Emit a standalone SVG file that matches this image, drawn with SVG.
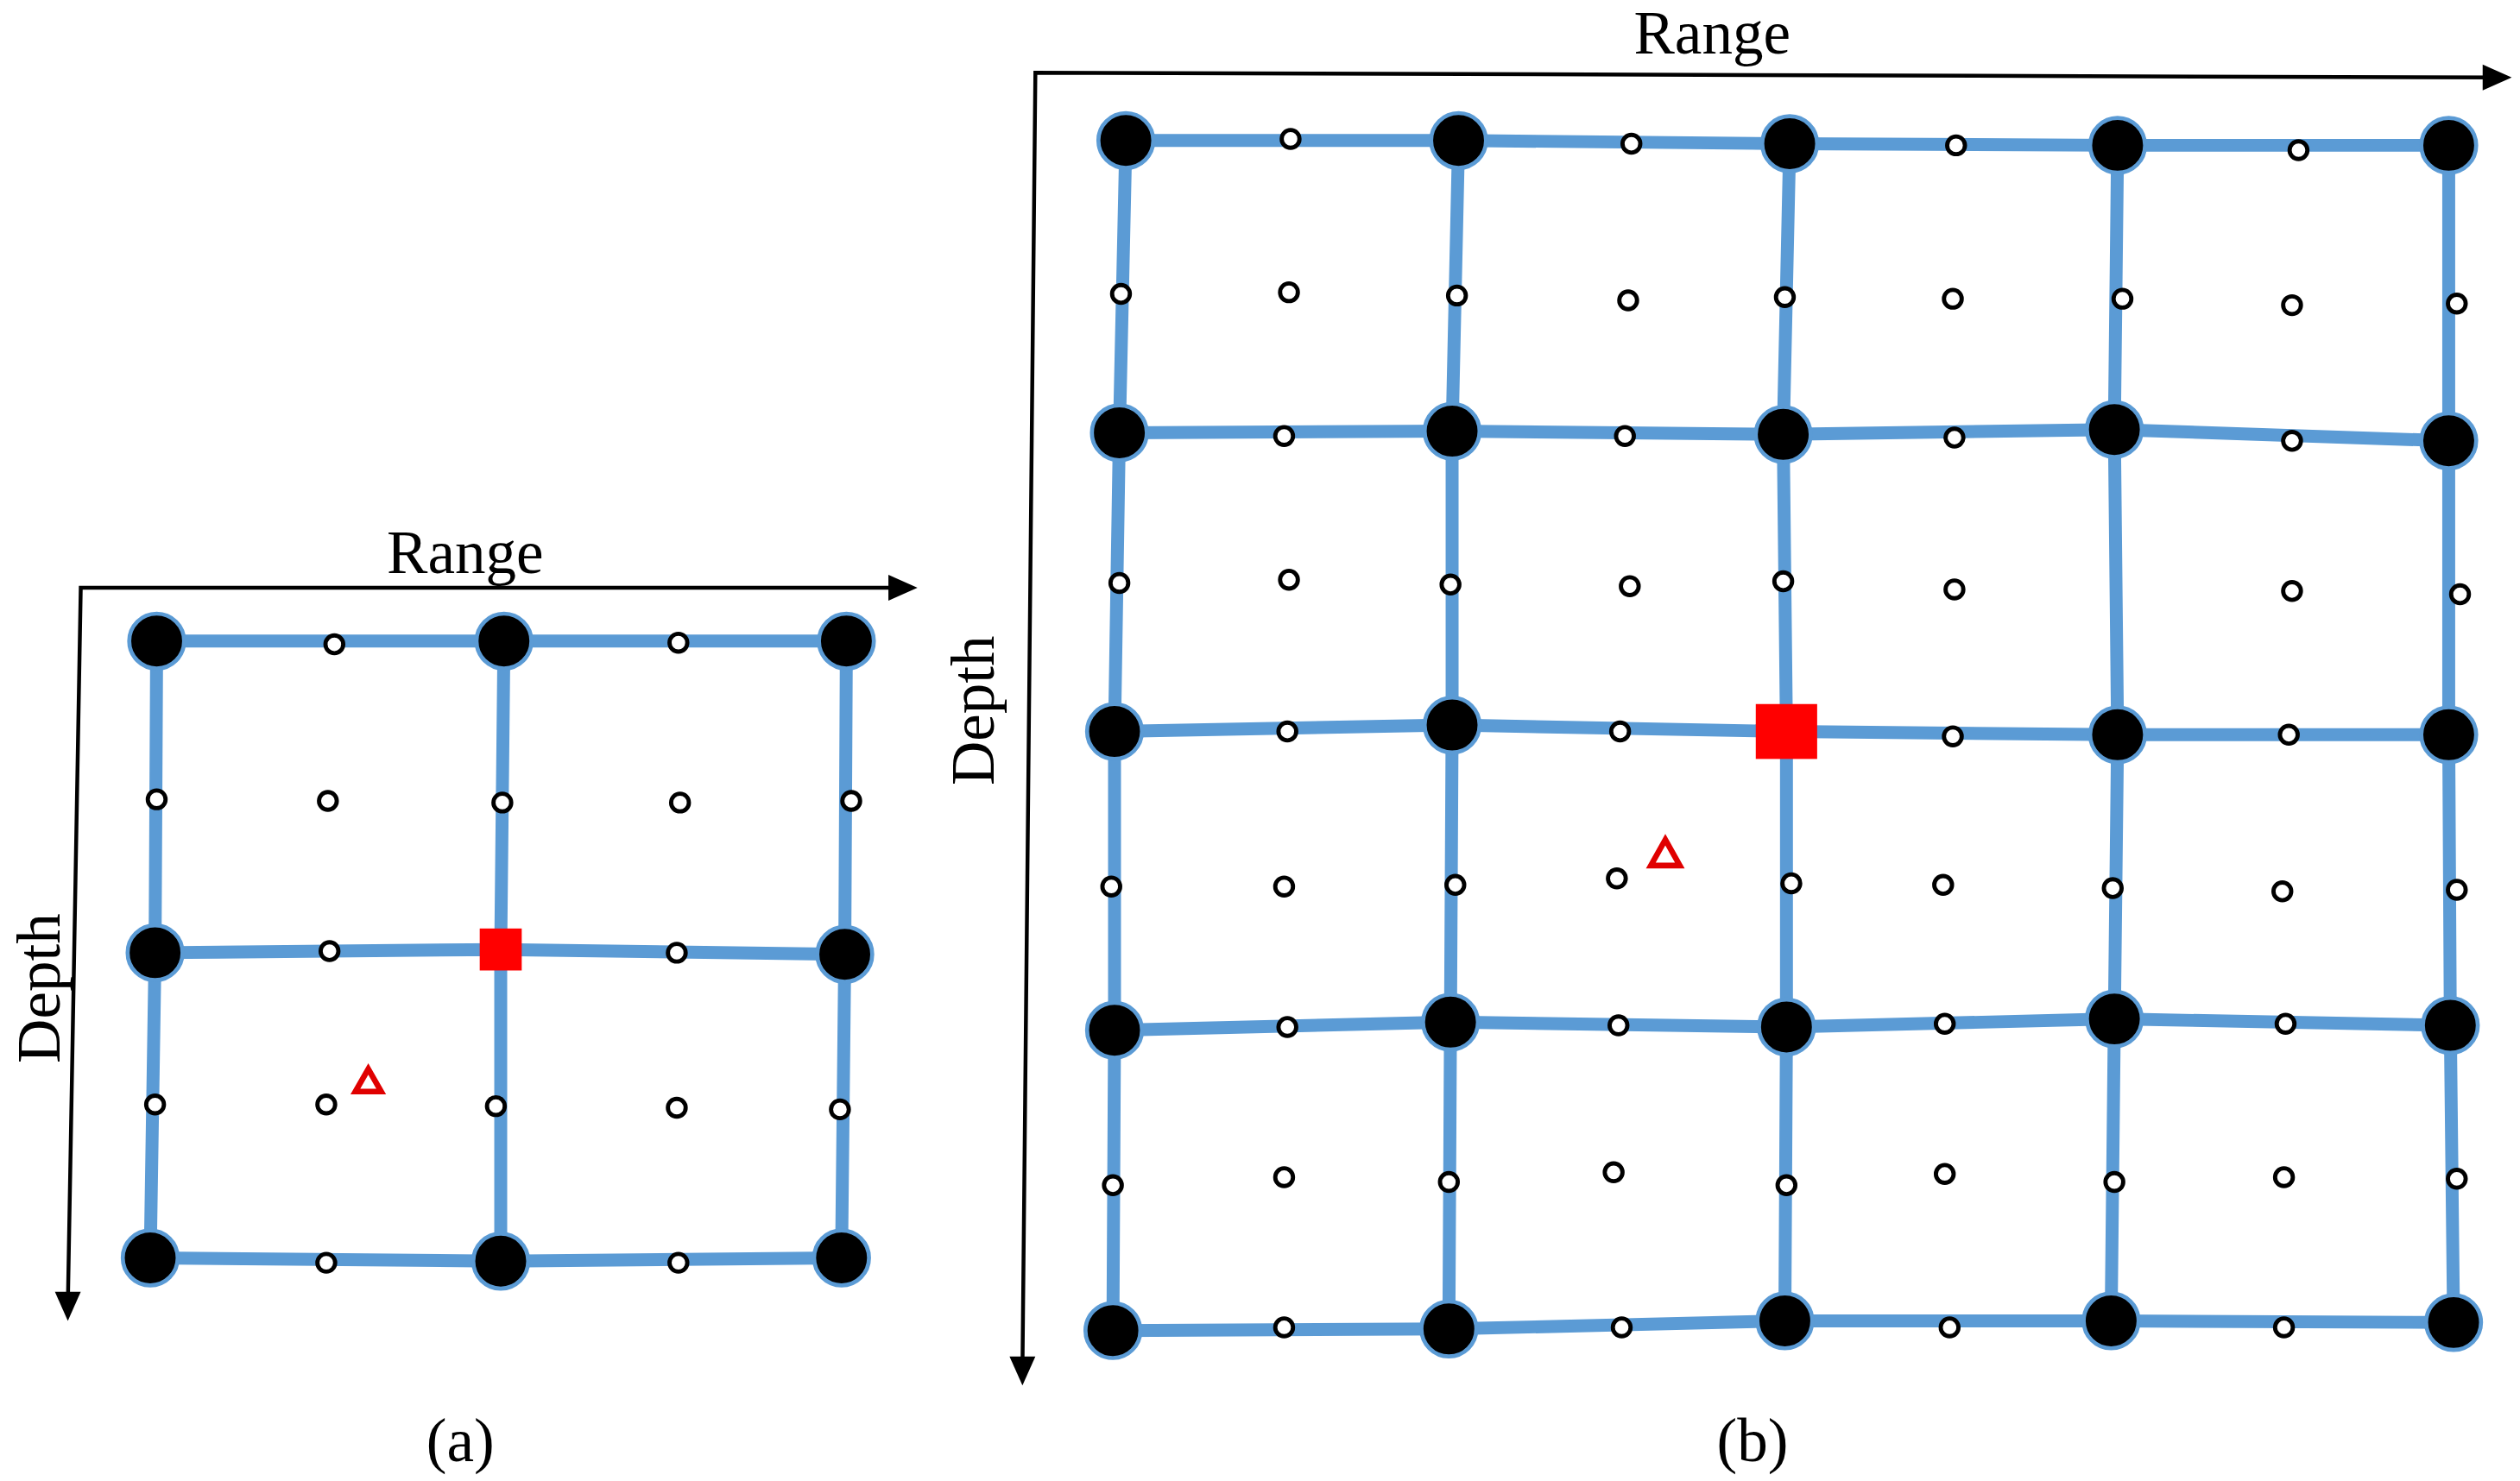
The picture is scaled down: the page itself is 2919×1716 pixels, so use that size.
<svg xmlns="http://www.w3.org/2000/svg" width="2919" height="1716" viewBox="0 0 2919 1716">
<defs>
<style>
.ln{fill:none;stroke:#5b9bd5;stroke-width:8;stroke-linecap:round;stroke-linejoin:round}
.ax{fill:none;stroke:#000;stroke-width:2.4}
.bn{fill:#000;stroke:#5b9bd5;stroke-width:2.5}
.sn{fill:#fff;stroke:#000;stroke-width:2.6}
.lb{font-family:"Liberation Serif","Times New Roman",serif;font-size:38px;fill:#000;text-anchor:middle}
.tri{fill:none;stroke:#e00000;stroke-width:3.5}
</style>
</defs>
<rect width="2919" height="1716" fill="#fff"/>
<g transform="scale(1.871)">
<g id="connectors-a">
<polyline class="ln" points="97,397 312,397 524,397"/>
<polyline class="ln" points="96,590 310,588 523,591"/>
<polyline class="ln" points="93,779 310,781 521,779"/>
<polyline class="ln" points="97,397 96,590 93,779"/>
<polyline class="ln" points="312,397 310,588 310,781"/>
<polyline class="ln" points="524,397 523,591 521,779"/>
</g>
<g id="axes-a">
<polyline class="ax" points="560,364 50,364 42,808"/>
<path d="M550,356 L568,364 L550,372 z"/>
<path d="M34,800 L42,818 L50,800 z"/>
</g>
<g id="nodes-a">
<g class="bn">
<circle cx="97" cy="397" r="17"/><circle cx="312" cy="397" r="17"/><circle cx="524" cy="397" r="17"/>
<circle cx="96" cy="590" r="17"/><circle cx="523" cy="591" r="17"/>
<circle cx="93" cy="779" r="17"/><circle cx="310" cy="781" r="17"/><circle cx="521" cy="779" r="17"/>
</g>
<rect x="297" y="575" width="26" height="26" fill="#ff0000"/>
<g class="sn">
<circle cx="207" cy="399" r="5.5"/><circle cx="420" cy="398" r="5.5"/>
<circle cx="97" cy="495" r="5.5"/><circle cx="203" cy="496" r="5.5"/><circle cx="311" cy="497" r="5.5"/><circle cx="421" cy="497" r="5.5"/><circle cx="527" cy="496" r="5.5"/>
<circle cx="204" cy="589" r="5.5"/><circle cx="419" cy="590" r="5.5"/>
<circle cx="96" cy="684" r="5.5"/><circle cx="202" cy="684" r="5.5"/><circle cx="307" cy="685" r="5.5"/><circle cx="419" cy="686" r="5.5"/><circle cx="520" cy="687" r="5.5"/>
<circle cx="202" cy="782" r="5.5"/><circle cx="420" cy="782" r="5.5"/>
</g>
<polygon class="tri" points="228,662 236,676 220,676"/>
</g>
<g id="labels-a">
<text class="lb" x="288" y="355">Range</text>
<text class="lb" transform="translate(37,612) rotate(-90)">Depth</text>
<text class="lb" x="285" y="905">(a)</text>
</g>
<g id="connectors-b">
<polyline class="ln" points="697,87 903,87 1108,89 1311,90 1516,90"/>
<polyline class="ln" points="693,268 899,267 1104,269 1309,266 1516,273"/>
<polyline class="ln" points="690,453 899,449 1106,453 1311,455 1516,455"/>
<polyline class="ln" points="690,638 898,633 1106,636 1309,631 1517,635"/>
<polyline class="ln" points="689,824 897,823 1105,818 1307,818 1519,819"/>
<polyline class="ln" points="697,87 693,268 690,453 690,638 689,824"/>
<polyline class="ln" points="903,87 899,267 899,449 898,633 897,823"/>
<polyline class="ln" points="1108,89 1104,269 1106,453 1106,636 1105,818"/>
<polyline class="ln" points="1311,90 1309,266 1311,455 1309,631 1307,818"/>
<polyline class="ln" points="1516,90 1516,273 1516,455 1517,635 1519,819"/>
</g>
<g id="axes-b">
<polyline class="ax" points="1547,48 641,45 633,848"/>
<path d="M1537,40 L1555,48 L1537,56 z"/>
<path d="M625,840 L633,858 L641,840 z"/>
</g>
<g id="nodes-b">
<g class="bn">
<circle cx="697" cy="87" r="17"/><circle cx="903" cy="87" r="17"/><circle cx="1108" cy="89" r="17"/><circle cx="1311" cy="90" r="17"/><circle cx="1516" cy="90" r="17"/>
<circle cx="693" cy="268" r="17"/><circle cx="899" cy="267" r="17"/><circle cx="1104" cy="269" r="17"/><circle cx="1309" cy="266" r="17"/><circle cx="1516" cy="273" r="17"/>
<circle cx="690" cy="453" r="17"/><circle cx="899" cy="449" r="17"/><circle cx="1311" cy="455" r="17"/><circle cx="1516" cy="455" r="17"/>
<circle cx="690" cy="638" r="17"/><circle cx="898" cy="633" r="17"/><circle cx="1106" cy="636" r="17"/><circle cx="1309" cy="631" r="17"/><circle cx="1517" cy="635" r="17"/>
<circle cx="689" cy="824" r="17"/><circle cx="897" cy="823" r="17"/><circle cx="1105" cy="818" r="17"/><circle cx="1307" cy="818" r="17"/><circle cx="1519" cy="819" r="17"/>
</g>
<rect x="1087" y="436" width="38" height="34" fill="#ff0000"/>
<g class="sn">
<circle cx="799" cy="86" r="5.5"/><circle cx="1010" cy="89" r="5.5"/><circle cx="1211" cy="90" r="5.5"/><circle cx="1423" cy="93" r="5.5"/>
<circle cx="694" cy="182" r="5.5"/><circle cx="798" cy="181" r="5.5"/><circle cx="902" cy="183" r="5.5"/><circle cx="1008" cy="186" r="5.5"/><circle cx="1105" cy="184" r="5.5"/><circle cx="1209" cy="185" r="5.5"/><circle cx="1314" cy="185" r="5.5"/><circle cx="1419" cy="189" r="5.5"/><circle cx="1521" cy="188" r="5.5"/>
<circle cx="795" cy="270" r="5.5"/><circle cx="1006" cy="270" r="5.5"/><circle cx="1210" cy="271" r="5.5"/><circle cx="1419" cy="273" r="5.5"/>
<circle cx="693" cy="361" r="5.5"/><circle cx="798" cy="359" r="5.5"/><circle cx="898" cy="362" r="5.5"/><circle cx="1009" cy="363" r="5.5"/><circle cx="1104" cy="360" r="5.5"/><circle cx="1210" cy="365" r="5.5"/><circle cx="1419" cy="366" r="5.5"/><circle cx="1523" cy="368" r="5.5"/>
<circle cx="797" cy="453" r="5.5"/><circle cx="1003" cy="453" r="5.5"/><circle cx="1209" cy="456" r="5.5"/><circle cx="1417" cy="455" r="5.5"/>
<circle cx="688" cy="549" r="5.5"/><circle cx="795" cy="549" r="5.5"/><circle cx="901" cy="548" r="5.5"/><circle cx="1001" cy="544" r="5.5"/><circle cx="1109" cy="547" r="5.5"/><circle cx="1203" cy="548" r="5.5"/><circle cx="1308" cy="550" r="5.5"/><circle cx="1413" cy="552" r="5.5"/><circle cx="1521" cy="551" r="5.5"/>
<circle cx="797" cy="636" r="5.5"/><circle cx="1002" cy="635" r="5.5"/><circle cx="1204" cy="634" r="5.5"/><circle cx="1415" cy="634" r="5.5"/>
<circle cx="689" cy="734" r="5.5"/><circle cx="795" cy="729" r="5.5"/><circle cx="897" cy="732" r="5.5"/><circle cx="999" cy="726" r="5.5"/><circle cx="1106" cy="734" r="5.5"/><circle cx="1204" cy="727" r="5.5"/><circle cx="1309" cy="732" r="5.5"/><circle cx="1414" cy="729" r="5.5"/><circle cx="1521" cy="730" r="5.5"/>
<circle cx="795" cy="822" r="5.5"/><circle cx="1004" cy="822" r="5.5"/><circle cx="1207" cy="822" r="5.5"/><circle cx="1414" cy="822" r="5.5"/>
</g>
<polygon class="tri" points="1031,520 1040,536 1022,536"/>
</g>
<g id="labels-b">
<text class="lb" x="1060" y="33">Range</text>
<text class="lb" transform="translate(615,440) rotate(-90)">Depth</text>
<text class="lb" x="1085" y="905">(b)</text>
</g>
</g>
</svg>
